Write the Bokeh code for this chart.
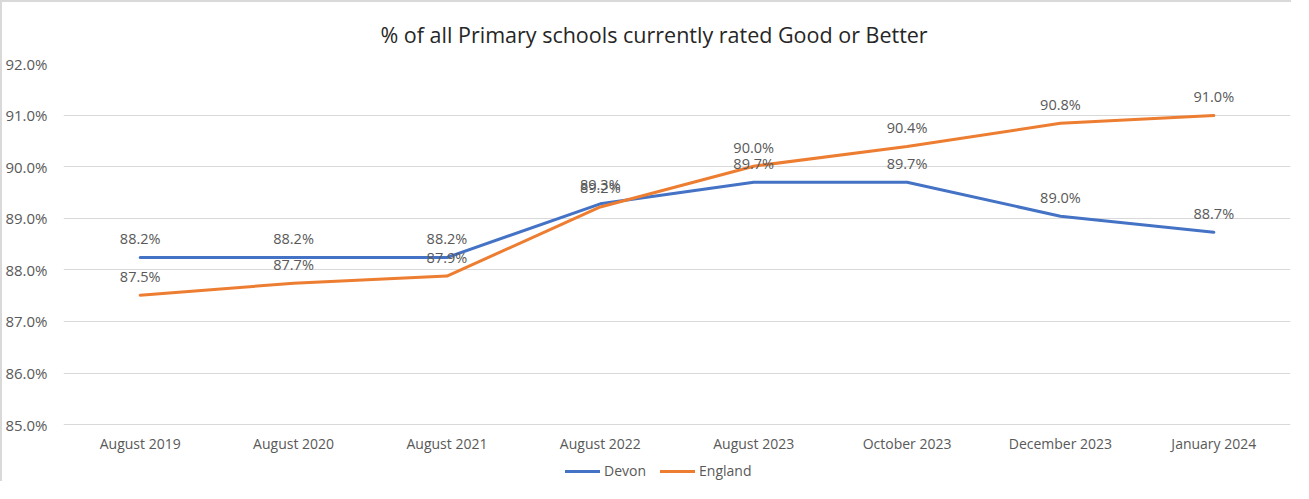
from bokeh.plotting import figure
from bokeh.models import ColumnDataSource, Legend, LegendItem, FixedTicker, Range1d, CustomJSTickFormatter
from bokeh.core.properties import value
from bokeh.embed import file_html
from bokeh.resources import INLINE

categories = ["August 2019", "August 2020", "August 2021", "August 2022",
              "August 2023", "October 2023", "December 2023", "January 2024"]
devon = [88.24, 88.24, 88.24, 89.28, 89.70, 89.70, 89.04, 88.73]
england = [87.51, 87.74, 87.88, 89.22, 90.01, 90.39, 90.84, 90.99]
y_ticks = [85, 86, 87, 88, 89, 90, 91, 92]
axis_floor = [85] * len(categories)

FONT = "Open Sans"
GREY = "#595959"

p = figure(x_range=categories, y_range=Range1d(83.86, 92), width=1291, height=481,
           output_backend="svg", toolbar_location=None,
           title="% of all Primary schools currently rated Good or Better",
           min_border_left=58, min_border_right=3, min_border_top=60, min_border_bottom=0)
p.styles = {"border-top": "2px solid #d9d9d9", "border-left": "2px solid #d9d9d9"}
p.outline_line_color = None
p.background_fill_color = "white"
p.border_fill_color = "white"

p.title.align = "left"
p.title.text_font = FONT
p.title.text_font_size = "21.5px"
p.title.text_font_style = "normal"
p.title.text_color = "#262626"
p.title.offset = 317
p.title.standoff = 30

p.x_range.range_padding = 0
p.xgrid.grid_line_color = None
p.ygrid.grid_line_color = "#d9d9d9"
p.ygrid.grid_line_width = 1
p.xaxis.visible = False

p.yaxis.ticker = FixedTicker(ticks=y_ticks)
p.yaxis.formatter = CustomJSTickFormatter(code="return tick.toFixed(1) + '%';")
p.yaxis.axis_line_color = None
p.yaxis.major_tick_line_color = None
p.yaxis.minor_tick_line_color = None
p.yaxis.major_label_text_font = FONT
p.yaxis.major_label_text_color = GREY
p.yaxis.major_label_text_font_size = "15px"
p.yaxis.major_label_standoff = 10

src = ColumnDataSource(dict(
    cat=categories, devon=devon, england=england, floor=axis_floor,
    devon_lbl=["%.1f%%" % v for v in devon],
    england_lbl=["%.1f%%" % v for v in england],
))

# category axis labels (drawn under the 85% baseline)
p.text("cat", "floor", text="cat", source=src, text_align="center", text_baseline="middle",
       y_offset=19, text_font=value(FONT), text_font_size="14px", text_color=GREY)

r_dev = p.line("cat", "devon", source=src, line_color="#4472C4", line_width=3, line_join="round", line_cap="round")
r_eng = p.line("cat", "england", source=src, line_color="#ED7D31", line_width=3, line_join="round", line_cap="round")

for col, lbl in (("devon", "devon_lbl"), ("england", "england_lbl")):
    p.text("cat", col, text=lbl, source=src, text_align="center", text_baseline="middle",
           y_offset=-19, text_font=value(FONT), text_font_size="14.5px", text_color=GREY)

legend = Legend(items=[LegendItem(label="Devon", renderers=[r_dev]),
                       LegendItem(label="England", renderers=[r_eng])],
                orientation="horizontal", location=(502, 3),
                label_text_font=FONT, label_text_font_size="14px", label_text_color=GREY,
                glyph_width=35, glyph_height=14, label_standoff=4, spacing=14,
                padding=1, margin=0, border_line_color=None, background_fill_alpha=0,
                label_height=16)
p.add_layout(legend)

open("out.html", "w").write(file_html(p, INLINE))
